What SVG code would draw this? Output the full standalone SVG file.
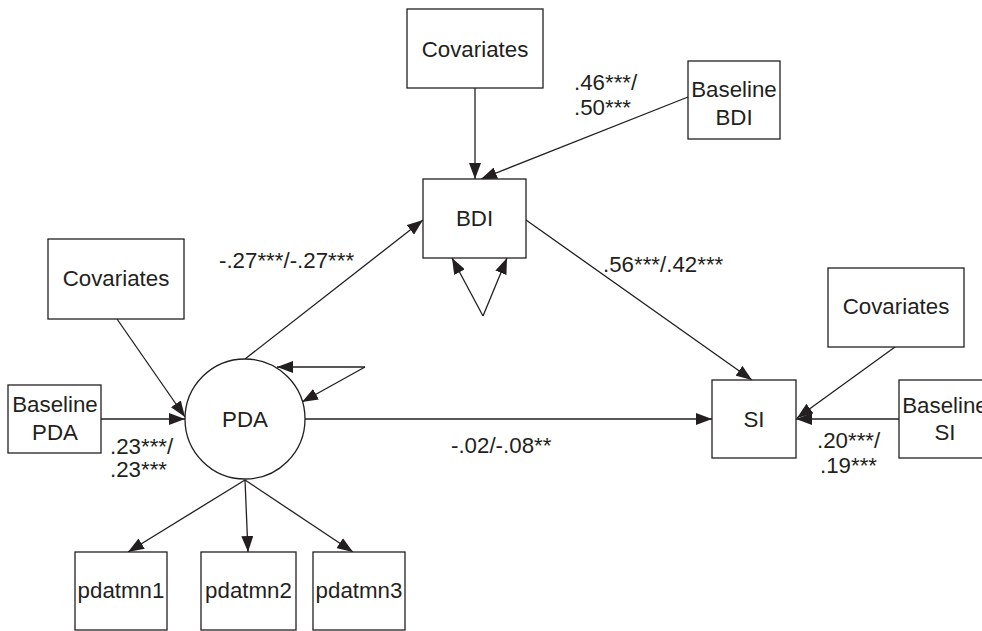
<svg xmlns="http://www.w3.org/2000/svg" width="982" height="631" viewBox="0 0 982 631">
<defs>
<marker id="ah" markerUnits="userSpaceOnUse" markerWidth="16" markerHeight="12" refX="16" refY="6" orient="auto">
<path d="M0,0 L16,6 L0,12 z" fill="#231f20"/>
</marker>
<style>
.box{fill:#fff;stroke:#231f20;stroke-width:1.3}
.t{font-family:"Liberation Sans",Arial,sans-serif;font-size:22.3px;fill:#231f20}
.m{text-anchor:middle}
.c{fill:none;stroke:#231f20;stroke-width:1.3;marker-end:url(#ah)}
</style>
</defs>
<rect width="982" height="631" fill="#fff"/>
<g id="connectors">
<line class="c" x1="475" y1="88" x2="475" y2="179"/>
<line class="c" x1="688" y1="97" x2="481" y2="179"/>
<line class="c" x1="245" y1="359" x2="423" y2="220"/>
<line class="c" x1="526" y1="220" x2="752" y2="380"/>
<line class="c" x1="483" y1="316" x2="452" y2="258"/>
<line class="c" x1="483" y1="316" x2="507" y2="258"/>
<line class="c" x1="117" y1="319" x2="185" y2="417"/>
<line class="c" x1="101" y1="419" x2="185" y2="419"/>
<line class="c" x1="365" y1="367" x2="277" y2="367"/>
<line class="c" x1="365" y1="367" x2="302" y2="402"/>
<line class="c" x1="305" y1="419" x2="712" y2="419"/>
<line class="c" x1="895" y1="347" x2="797" y2="418"/>
<line class="c" x1="899" y1="419" x2="796" y2="419"/>
<line class="c" x1="245" y1="480" x2="128" y2="552"/>
<line class="c" x1="245" y1="480" x2="248" y2="552"/>
<line class="c" x1="245" y1="480" x2="353" y2="552"/>
</g>
<g id="labels">
<text class="t" x="574" y="90">.46***/</text>
<text class="t" x="574" y="115">.50***</text>
<text class="t" x="219" y="268">-.27***/-.27***</text>
<text class="t" x="603" y="272">.56***/.42***</text>
<text class="t" x="451" y="453">-.02/-.08**</text>
<text class="t" x="110" y="454">.23***/</text>
<text class="t" x="110" y="477">.23***</text>
<text class="t" x="817" y="448">.20***/</text>
<text class="t" x="820" y="473">.19***</text>
</g>
<g id="cov_top"><rect class="box" x="407" y="9" width="136" height="79"/><text class="t m" x="475" y="57">Covariates</text></g>
<g id="baseline_bdi"><rect class="box" x="688" y="61" width="92" height="78"/><text class="t m" x="734" y="97">Baseline</text><text class="t m" x="734" y="125">BDI</text></g>
<g id="bdi"><rect class="box" x="423" y="179" width="103" height="79"/><text class="t m" x="474.5" y="226">BDI</text></g>
<g id="cov_left"><rect class="box" x="48" y="239" width="136" height="80"/><text class="t m" x="116" y="286">Covariates</text></g>
<g id="cov_right"><rect class="box" x="828" y="268" width="136" height="79"/><text class="t m" x="896" y="314">Covariates</text></g>
<g id="baseline_pda"><rect class="box" x="8" y="385" width="93" height="68"/><text class="t m" x="55" y="412">Baseline</text><text class="t m" x="55" y="440">PDA</text></g>
<g id="pda"><circle class="box" cx="245" cy="419" r="60"/><text class="t m" x="245" y="427">PDA</text></g>
<g id="si"><rect class="box" x="712" y="380" width="84" height="78"/><text class="t m" x="754" y="427">SI</text></g>
<g id="baseline_si"><rect class="box" x="899" y="380" width="92" height="78"/><text class="t m" x="945" y="413">Baseline</text><text class="t m" x="945" y="440">SI</text></g>
<g id="pdatmn1"><rect class="box" x="75" y="552" width="92" height="78"/><text class="t m" x="121" y="598">pdatmn1</text></g>
<g id="pdatmn2"><rect class="box" x="201" y="552" width="95" height="78"/><text class="t m" x="248.5" y="598">pdatmn2</text></g>
<g id="pdatmn3"><rect class="box" x="313" y="552" width="92" height="78"/><text class="t m" x="359" y="598">pdatmn3</text></g>
</svg>
